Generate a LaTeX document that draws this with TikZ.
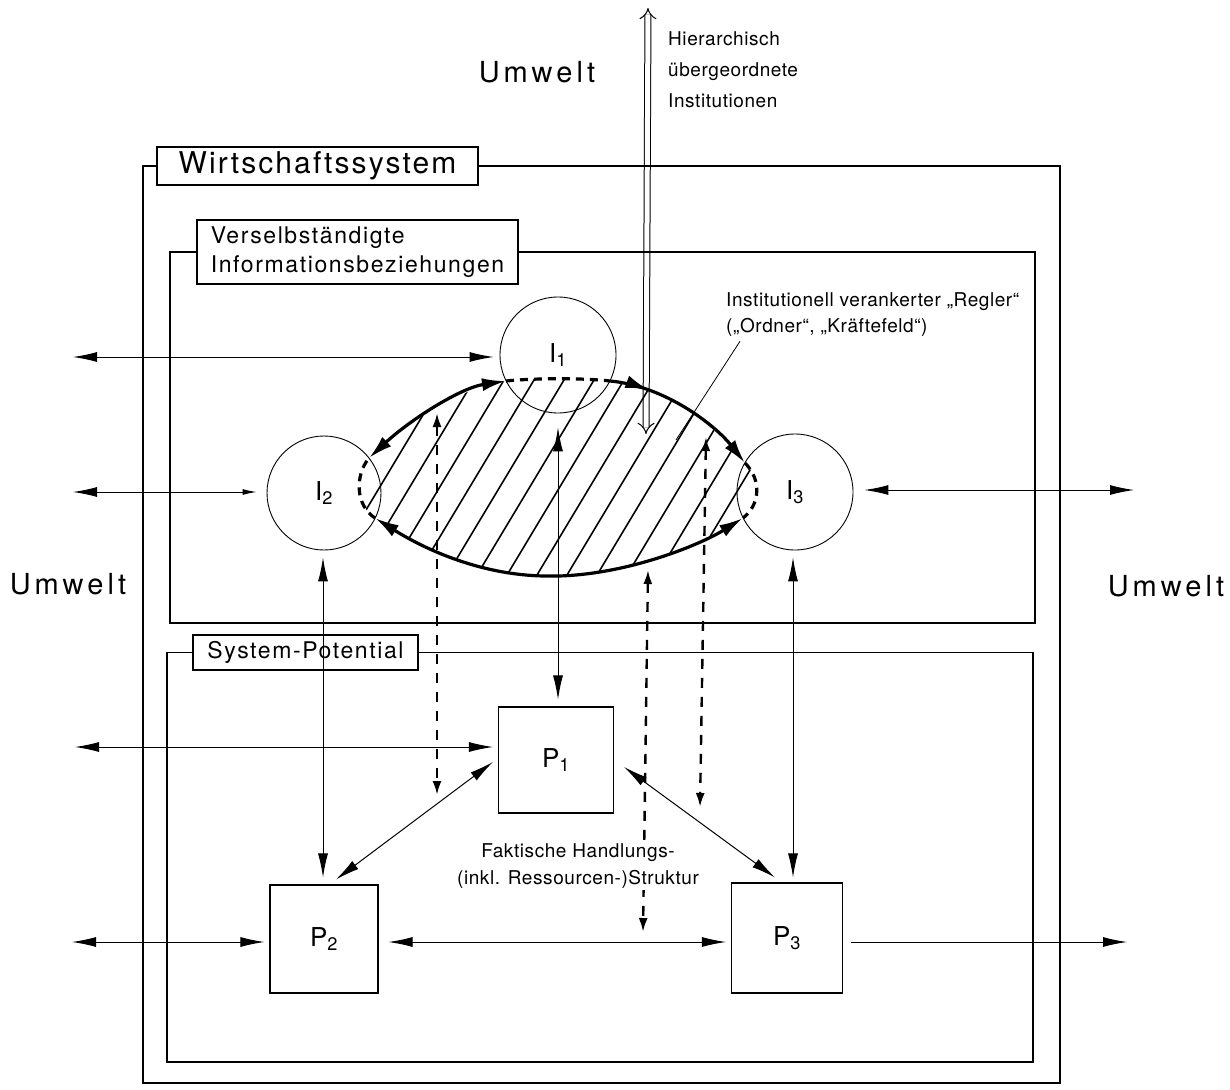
\documentclass[tikz,border=0pt]{standalone}
\usepackage{fontspec}
\setmainfont{TeX Gyre Heros}
\newfontfamily\fws[LetterSpace=7]{TeX Gyre Heros}
\newfontfamily\fum[LetterSpace=14]{TeX Gyre Heros}
\newfontfamily\flb[LetterSpace=7]{TeX Gyre Heros}
\newfontfamily\fsm[LetterSpace=3]{TeX Gyre Heros}
\usetikzlibrary{arrows.meta,decorations.markings,calc}
\tikzset{
  hd/.tip={Latex[length=24pt,width=10pt]},
  sh/.tip={Latex[length=14pt,width=6pt]},
  lh/.tip={Latex[length=24pt,width=13pt]},
  dh/.tip={Latex[length=14pt,width=9pt]},
  frame/.style={line width=1.1pt},
  lbl/.style={draw,line width=1.1pt,fill=white,inner sep=0pt},
  circ/.style={circle,draw,line width=0.9pt,inner sep=0pt,font=\fontsize{26}{30}\selectfont},
  pbox/.style={rectangle,draw,line width=1.1pt,inner sep=0pt,font=\fontsize{26}{30}\selectfont},
  conn/.style={line width=1pt},
  dconn/.style={line width=2.4pt,dash pattern=on 10pt off 9pt},
  lensline/.style={line width=3.2pt},
  lensdash/.style={line width=3.2pt,dash pattern=on 8pt off 6pt},
  hatch/.style={line width=1.6pt},
  small/.style={font=\fsm\fontsize{19}{27}\selectfont,inner sep=0pt},
  umw/.style={font=\fum\fontsize{29}{32}\selectfont}
}
\begin{document}
\begin{tikzpicture}[x=1pt,y=-1pt]
\fill[white] (0,0) rectangle (1230,1089);
\useasboundingbox (0,0) rectangle (1230,1089);

% double arrow from hierarchically superior institutions
\coordinate (hTop) at (648,8);
\coordinate (hBot) at (646,434);
\draw[double,double distance=5pt,line width=1pt,{Implies[scale=1.6]}-{Implies[scale=1.6]}] (hTop) -- (hBot);

% label boxes
\node[lbl,font=\fws\fontsize{30}{34}\selectfont,minimum width=321pt,minimum height=38pt] (ws) at (317.5,166) {Wirtschaftssystem};
\node[lbl,align=left,font=\flb\fontsize{23}{29}\selectfont,minimum width=321pt,minimum height=64pt] (vb) at (357.5,252) {Verselbständigte\\Informationsbeziehungen};
\node[lbl,font=\flb\fontsize{23}{26}\selectfont,minimum width=225pt,minimum height=35pt] (sp) at (305.5,652.5) {System-Potential};

% frames
\draw[frame] (ws.west) -| (143,1083) -| (1060,166) -- (ws.east);
\draw[frame] (vb.west) -| (170,623) -| (1035,252) -- (vb.east);
\draw[frame] (sp.west) -| (167,1062) -| (1033,652.5) -- (sp.east);

% lens points
\coordinate (L1) at (369,458);
\coordinate (T1) at (506,381);
\coordinate (T2) at (610,381);
\coordinate (R1) at (745,463);
\coordinate (R2) at (743,518);
\coordinate (B) at (545,576);
\coordinate (L2) at (375,518);

% hatching
\begin{scope}
\clip (L1) .. controls (410,420) and (460,388) .. (T1)
  .. controls (535,378) and (585,378) .. (T2)
  .. controls (665,386) and (715,425) .. (R1)
  .. controls (762,480) and (760,505) .. (R2)
  .. controls (700,545) and (620,578) .. (B)
  .. controls (470,575) and (410,540) .. (L2)
  .. controls (355,505) and (355,475) .. (L1) -- cycle;
\foreach \k in {0,...,19} { \draw[hatch] (222+\k*30,600) -- ++(150,-250); }
\end{scope}

% lens boundary
\draw[lensline,{lh}-{lh}] (L1) .. controls (410,420) and (460,388) .. (T1);
\draw[lensdash] (T1) .. controls (535,378) and (585,378) .. (T2);
\draw[lensline,-{lh},postaction={decorate},decoration={markings,mark=at position 0.25 with {\arrow{lh}}}] (T2) .. controls (665,386) and (715,425) .. (R1);
\draw[lensdash] (R1) .. controls (762,480) and (760,505) .. (R2);
\draw[lensline,-{lh}] (B) .. controls (620,578) and (700,545) .. (R2);
\draw[lensline,-{lh}] (B) .. controls (470,575) and (410,540) .. (L2);
\draw[lensdash] (L2) .. controls (355,505) and (355,475) .. (L1);

% circles
\node[circ,minimum size=116pt] (I1) at (558,355) {I\textsubscript{1}};
\node[circ,minimum size=114pt] (I2) at (324,493) {I\textsubscript{2}};
\node[circ,minimum size=116pt] (I3) at (795,492) {I\textsubscript{3}};

% boxes
\node[pbox,minimum width=115pt,minimum height=106pt] (P1) at (556,760) {P\textsubscript{1}};
\node[pbox,minimum width=108pt,minimum height=108pt] (P2) at (324,939) {P\textsubscript{2}};
\node[pbox,minimum width=111pt,minimum height=110pt] (P3) at (787,938) {P\textsubscript{3}};

% texts
\node[umw] (uTop) at (537,72) {Umwelt};
\node[umw] (uLeft) at (68,584) {Umwelt};
\node[umw] (uRight) at (1166,586) {Umwelt};
\node[small,anchor=north west,align=left,font=\fsm\fontsize{19}{31}\selectfont] (hier) at (668,31) {Hierarchisch\\übergeordnete\\Institutionen};
\node[small,anchor=north west,align=left,font=\fsm\fontsize{19}{26}\selectfont] (regler) at (726,292) {Institutionell verankerter „Regler“\\(„Ordner“, „Kräftefeld“)};
\coordinate (ptr) at (676,440);
\draw[conn,line width=0.8pt] ($(regler.south west)+(14,5)$) -- (ptr);

% environment end points
\coordinate (e1) at (73,357);
\coordinate (e2) at (73,492);
\coordinate (e3) at (1134,490);
\coordinate (e4) at (75,747);
\coordinate (e5) at (72,942);
\coordinate (e6) at (1127,942);

% horizontal connectors
\draw[conn,{hd}-{hd},shorten >=6pt] (e1) -- (e1 -| I1.west);
\draw[conn,{hd}-{sh},shorten >=10pt] (e2) -- (e2 -| I2.west);
\draw[conn,{hd}-{hd},shorten <=11pt] (e3 -| I3.east) -- (e3);
\draw[conn,{hd}-{hd},shorten >=5pt] (e4) -- (e4 -| P1.west);
\draw[conn,{hd}-{hd},shorten >=5pt] (e5) -- (e5 -| P2.west);
\draw[conn,{hd}-{hd},shorten <=10pt,shorten >=5pt] (e5 -| P2.east) -- (e5 -| P3.west);
\draw[conn,-{hd},shorten <=8pt] (e6 -| P3.east) -- (e6);

% diagonal connectors
\draw[conn,{hd}-{hd}] ($(P1.west)+(-5,2)$) -- ($(P2.north)+(12,-5)$);
\draw[conn,{hd}-{hd}] ($(P1.east)+(10,7)$) -- ($(P3.north)+(-12,-5)$);

% vertical connectors
\draw[conn,{hd}-{hd}] ($(I1.south)+(0,14)$) -- ($(I1.south |- P1.north)+(0,-7)$);
\draw[conn,{hd}-{hd}] ($(I2.south)+(-1,7)$) -- ($(I2.south |- P2.north)+(-1,-7)$);
\draw[conn,{hd}-{hd}] ($(I3.south)+(-2,7)$) -- ($(I3.south |- P3.north)+(-2,-5)$);

% dashed connectors
\coordinate (dA1) at (437,413); \coordinate (dA2) at (437,795);
\coordinate (dB1) at (648,570); \coordinate (dB2) at (643,932);
\coordinate (dC1) at (706,437); \coordinate (dC2) at (700,807);
\draw[dconn,{dh}-{dh}] (dA1) -- (dA2);
\draw[dconn,{dh}-{dh}] (dB1) -- (dB2);
\draw[dconn,{dh}-{dh}] (dC1) -- (dC2);

\node[small,align=center,fill=white,inner sep=2pt] (fakt) at (578,866) {Faktische Handlungs-\\(inkl. Ressourcen-)Struktur};
\end{tikzpicture}
\end{document}
